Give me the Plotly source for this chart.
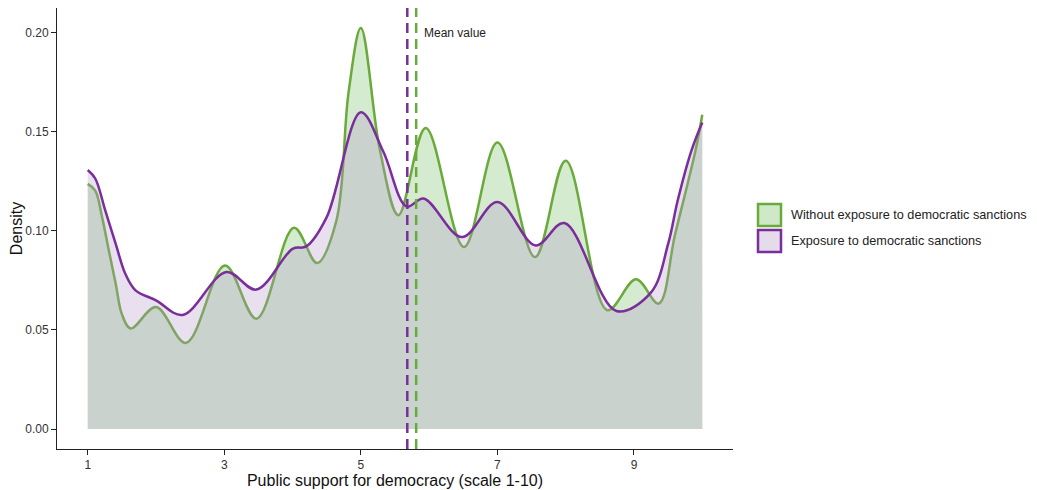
import plotly.graph_objects as go

# Density curve key points
x_without = [1.0, 1.11, 1.21, 1.31, 1.41, 1.5, 1.63, 2.0, 2.44, 3.01, 3.47, 4.02, 4.36, 4.64, 4.82, 5.0, 5.28, 5.55, 5.95, 6.51, 7.0, 7.55, 8.0, 8.61, 9.03, 9.36, 9.6, 9.9, 10.0]
y_without = [0.1238, 0.1204, 0.107, 0.090, 0.0734, 0.058, 0.0507, 0.0616, 0.0435, 0.0826, 0.0557, 0.1016, 0.0838, 0.105, 0.170, 0.2025, 0.1406, 0.108, 0.152, 0.0919, 0.1447, 0.0868, 0.1355, 0.060, 0.0756, 0.0633, 0.098, 0.1405, 0.1587]

x_exposure = [1.0, 1.11, 1.26, 1.41, 1.55, 1.70, 2.0, 2.39, 3.03, 3.47, 4.0, 4.2, 4.5, 5.0, 5.33, 5.67, 5.92, 6.48, 7.0, 7.56, 7.98, 8.74, 9.25, 9.5, 9.64, 9.84, 10.0]
y_exposure = [0.1308, 0.1265, 0.110, 0.0935, 0.0784, 0.070, 0.065, 0.0576, 0.0793, 0.0704, 0.091, 0.0922, 0.107, 0.160, 0.140, 0.1123, 0.1164, 0.0969, 0.1146, 0.0927, 0.104, 0.0596, 0.069, 0.0935, 0.1154, 0.1405, 0.1548]

series_names = ["Without exposure to democratic sanctions", "Exposure to democratic sanctions"]
mean_values = [5.81, 5.68]  # without, exposure

x_ticks = [1, 3, 5, 7, 9]
y_ticks = [0.00, 0.05, 0.10, 0.15, 0.20]

GREEN = "#6aaa3a"
PURPLE = "#7a2e9b"
GREEN_FILL = "rgba(115,188,98,0.3)"
PURPLE_FILL = "rgba(178,152,198,0.3)"
FONT = "Liberation Sans, Arial, sans-serif"

fig = go.Figure()
fig.add_trace(go.Scatter(
    x=x_without, y=y_without, mode="lines", fill="tozeroy",
    fillcolor=GREEN_FILL, line=dict(color=GREEN, width=2.5, shape="spline", smoothing=1.0),
    name=series_names[0], showlegend=False, hoverinfo="skip"))
fig.add_trace(go.Scatter(
    x=x_exposure, y=y_exposure, mode="lines", fill="tozeroy",
    fillcolor=PURPLE_FILL, line=dict(color=PURPLE, width=2.5, shape="spline", smoothing=1.0),
    name=series_names[1], showlegend=False, hoverinfo="skip"))

# Mean lines
for mv, col in [(mean_values[1], PURPLE), (mean_values[0], GREEN)]:
    fig.add_shape(type="line", xref="x", yref="paper", x0=mv, x1=mv, y0=0, y1=1,
                  line=dict(color=col, width=2.5, dash="10px,6px"))

fig.add_annotation(x=mean_values[0], y=0.2, xref="x", yref="y", text="Mean value",
                   showarrow=False, xanchor="left", xshift=6, yanchor="middle",
                   font=dict(family=FONT, size=12, color="#222"))

# Manual legend (positions in page pixels -> paper coords)
plot_l, plot_r, plot_t, plot_b = 57, 733, 8, 449


def px2paper_x(px):
    return (px - plot_l) / (plot_r - plot_l)


def px2paper_y(py):
    return (plot_b - py) / (plot_b - plot_t)


legend_items = [(series_names[0], GREEN, GREEN_FILL), (series_names[1], PURPLE, PURPLE_FILL)]
for i, (nm, col, fcol) in enumerate(legend_items):
    y_top = 204 + i * 26
    fig.add_shape(type="rect", xref="paper", yref="paper",
                  x0=px2paper_x(758), x1=px2paper_x(781),
                  y0=px2paper_y(y_top + 22), y1=px2paper_y(y_top),
                  line=dict(color=col, width=2.5), fillcolor=fcol.replace("0.3", "0.35"))
    fig.add_annotation(xref="paper", yref="paper", x=px2paper_x(789), y=px2paper_y(y_top + 11),
                       text=nm, showarrow=False, xanchor="left", yanchor="middle",
                       font=dict(family=FONT, size=12.7, color="#222"))

# page body has an 8px margin, so the figure is sized to fit the window
fig.update_layout(
    width=1029, height=482,
    margin=dict(l=49, r=304, t=0, b=41),
    paper_bgcolor="white", plot_bgcolor="white",
    font=dict(family=FONT, size=12, color="#333"),
    showlegend=False,
)
fig.update_xaxes(
    range=[0.55, 10.45], tickvals=x_ticks, ticktext=[str(v) for v in x_ticks],
    showgrid=False, zeroline=False, showline=True, linecolor="#222", linewidth=1,
    ticks="outside", ticklen=5, tickcolor="#222", tickwidth=1, automargin=False,
    tickfont=dict(family=FONT, size=12, color="#333"),
    title=dict(text="Public support for democracy (scale 1-10)", standoff=1,
               font=dict(family=FONT, size=16, color="#111")),
)
fig.update_yaxes(
    range=[-0.0101, 0.2126], tickvals=y_ticks, tickformat=".2f",
    showgrid=False, zeroline=False, showline=True, linecolor="#222", linewidth=1,
    ticks="outside", ticklen=5, tickcolor="#222", tickwidth=1, automargin=False,
    tickfont=dict(family=FONT, size=12, color="#333"),
    title=dict(text="Density", standoff=5, font=dict(family=FONT, size=16, color="#111")),
)

fig.write_html("out.html")
